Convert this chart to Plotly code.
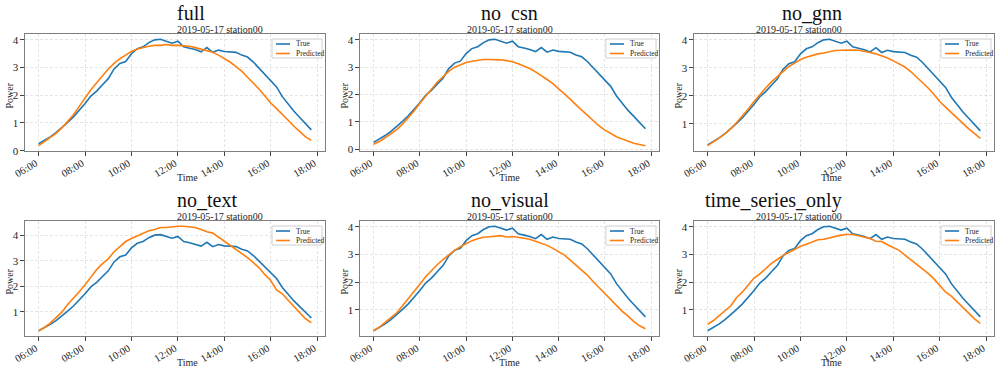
import pandas as pd
import plotly.graph_objects as go

times = pd.date_range("2019-05-17 06:00", "2019-05-17 17:45", freq="15min")

true_vals = [0.25, 0.37, 0.5, 0.65, 0.82, 1.02, 1.22, 1.45, 1.7, 1.97, 2.15, 2.38,
             2.6, 2.95, 3.15, 3.22, 3.5, 3.68, 3.75, 3.9, 4.0, 4.02, 3.95, 3.88,
             3.95, 3.75, 3.7, 3.65, 3.57, 3.72, 3.55, 3.63, 3.58, 3.57, 3.55, 3.45,
             3.38, 3.2, 2.98, 2.75, 2.55, 2.3, 1.95, 1.68, 1.42, 1.2, 0.97, 0.75]

pred_full = [0.18, 0.32, 0.47, 0.62, 0.82, 1.05, 1.3, 1.6, 1.9, 2.2, 2.45, 2.72,
             2.95, 3.15, 3.32, 3.45, 3.58, 3.67, 3.73, 3.77, 3.8, 3.8, 3.83, 3.8,
             3.8, 3.78, 3.77, 3.72, 3.67, 3.62, 3.55, 3.45, 3.33, 3.2, 3.03, 2.87,
             2.65, 2.45, 2.22, 1.97, 1.72, 1.52, 1.32, 1.1, 0.88, 0.68, 0.5, 0.37]

pred_no_csn = [0.18, 0.28, 0.42, 0.56, 0.72, 0.92, 1.15, 1.4, 1.68, 1.95, 2.2, 2.45,
               2.65, 2.85, 3.0, 3.08, 3.17, 3.22, 3.26, 3.28, 3.28, 3.28, 3.27, 3.24,
               3.2, 3.13, 3.05, 2.95, 2.83, 2.7, 2.55, 2.4, 2.22, 2.03, 1.83, 1.62,
               1.42, 1.22, 1.02, 0.85, 0.7, 0.57, 0.46, 0.37, 0.29, 0.22, 0.17, 0.13]

pred_no_gnn = [0.22, 0.35, 0.5, 0.65, 0.83, 1.05, 1.28, 1.53, 1.8, 2.05, 2.28, 2.5,
               2.68, 2.87, 3.05, 3.17, 3.3, 3.38, 3.45, 3.5, 3.53, 3.57, 3.62, 3.63,
               3.64, 3.64, 3.63, 3.6, 3.55, 3.5, 3.43, 3.35, 3.25, 3.15, 3.03, 2.87,
               2.68, 2.48, 2.28, 2.05, 1.8, 1.6, 1.4, 1.2, 1.0, 0.82, 0.65, 0.48]

pred_no_text = [0.25, 0.38, 0.55, 0.75, 0.98, 1.28, 1.52, 1.78, 2.05, 2.33, 2.65, 2.88,
                3.07, 3.35, 3.55, 3.75, 3.87, 3.97, 4.1, 4.17, 4.22, 4.3, 4.3, 4.33,
                4.35, 4.35, 4.33, 4.3, 4.22, 4.13, 4.08, 3.92, 3.78, 3.63, 3.45, 3.28,
                3.12, 2.92, 2.72, 2.45, 2.22, 1.85, 1.7, 1.45, 1.22, 0.98, 0.72, 0.57]

pred_no_visual = [0.25, 0.38, 0.55, 0.72, 0.9, 1.15, 1.4, 1.65, 1.93, 2.2, 2.42, 2.63,
                  2.82, 3.0, 3.15, 3.28, 3.4, 3.5, 3.57, 3.62, 3.64, 3.65, 3.68, 3.63,
                  3.65, 3.62, 3.58, 3.55, 3.48, 3.4, 3.33, 3.22, 3.1, 2.98, 2.8, 2.62,
                  2.42, 2.25, 2.02, 1.8, 1.58, 1.37, 1.15, 0.95, 0.78, 0.58, 0.43, 0.32]

pred_ts_only = [0.48, 0.62, 0.8, 0.98, 1.15, 1.45, 1.65, 1.9, 2.15, 2.3, 2.5, 2.68,
                2.82, 2.97, 3.07, 3.2, 3.3, 3.37, 3.45, 3.53, 3.55, 3.6, 3.63, 3.7,
                3.72, 3.72, 3.68, 3.63, 3.58, 3.48, 3.47, 3.35, 3.25, 3.15, 2.98, 2.82,
                2.65, 2.5, 2.32, 2.12, 1.9, 1.65, 1.5, 1.3, 1.1, 0.88, 0.68, 0.52]

titles = ["full", "no\u2002csn", "no_gnn", "no_text", "no_visual", "time_series_only"]
preds = [pred_full, pred_no_csn, pred_no_gnn, pred_no_text, pred_no_visual, pred_ts_only]
subtitle = "2019-05-17 station00"
legend_labels = ["True", "Predicted"]

W, H = 1001, 373
col_px = [(25, 325), (360, 659), (694, 994)]
row_px = [(34, 151), (221, 336)]
FONT = "Liberation Serif, Times New Roman, serif"
BLUE, ORANGE = "#1f77b4", "#ff7f0e"
TXT = "#262626"

fig = go.Figure()
span = times[-1] - times[0]
xr = [times[0] - span * 0.05, times[-1] + span * 0.05]
ticks = pd.date_range("2019-05-17 06:00", "2019-05-17 18:00", freq="2h")

layout = dict(width=W, height=H, margin=dict(l=0, r=0, t=0, b=0, autoexpand=False),
              paper_bgcolor="white", plot_bgcolor="white", showlegend=False,
              font=dict(family=FONT, color=TXT))
annotations = []
shapes = []

for i, (title, pred) in enumerate(zip(titles, preds)):
    r, c = divmod(i, 3)
    n = "" if i == 0 else str(i + 1)
    x0, x1 = col_px[c]
    y0, y1 = row_px[r]
    fig.add_trace(go.Scatter(x=times, y=true_vals, mode="lines", name=legend_labels[0],
                             line=dict(color=BLUE, width=1.6),
                             xaxis="x" + n, yaxis="y" + n))
    fig.add_trace(go.Scatter(x=times, y=pred, mode="lines", name=legend_labels[1],
                             line=dict(color=ORANGE, width=1.6),
                             xaxis="x" + n, yaxis="y" + n))
    lo = min(min(true_vals), min(pred))
    hi = max(max(true_vals), max(pred))
    pad = (hi - lo) * 0.05
    axis_common = dict(showline=True, mirror=True, linecolor="#7f7f7f", linewidth=1.2,
                       ticks="outside", ticklen=3.5, tickcolor="#444", automargin=False,
                       showgrid=True, gridcolor="rgba(170,170,170,0.3)",
                       griddash="3px,2px", gridwidth=0.8, zeroline=False)
    layout["xaxis" + n] = dict(axis_common, domain=[x0 / W, x1 / W], anchor="y" + n,
                               type="date", range=xr, tickvals=list(ticks),
                               tickformat="%H:%M", tickangle=-30,
                               ticklabelstandoff=-2, ticklabelshift=-3,
                               tickfont=dict(family=FONT, size=10.5, color=TXT))
    layout["yaxis" + n] = dict(axis_common, domain=[1 - y1 / H, 1 - y0 / H], anchor="x" + n,
                               range=[lo - pad, hi + pad], dtick=1, tick0=0,
                               tickfont=dict(family=FONT, size=11, color=TXT))
    cx = (x0 + x1) / 2
    annotations.append(dict(text=title, x=cx / W, y=1 - (y0 - 21) / H, xref="paper", yref="paper",
                            showarrow=False, font=dict(family=FONT, size=20, color="#111"),
                            yanchor="middle"))
    annotations.append(dict(text=subtitle, x=cx / W, y=1 - (y0 - 4.5) / H, xref="paper", yref="paper",
                            showarrow=False, font=dict(family=FONT, size=10, color=TXT),
                            yanchor="middle"))
    annotations.append(dict(text="Time", x=cx / W, y=1 - (y1 + 26) / H, xref="paper", yref="paper",
                            showarrow=False, font=dict(family=FONT, size=10, color=TXT),
                            yanchor="middle"))
    annotations.append(dict(text="Power", x=(x0 - 16) / W, y=1 - ((y0 + y1) / 2 + 3) / H,
                            xref="paper", yref="paper", textangle=-90,
                            showarrow=False, font=dict(family=FONT, size=10, color=TXT),
                            xanchor="center", yanchor="middle"))
    bx1, by0 = x1 - 3, y0 + 5
    bx0, by1 = bx1 - 50, by0 + 19
    shapes.append(dict(type="rect", xref="paper", yref="paper",
                       x0=bx0 / W, x1=bx1 / W, y0=1 - by1 / H, y1=1 - by0 / H,
                       line=dict(color="#d0d0d0", width=1), fillcolor="rgba(255,255,255,0.85)"))
    for k, (lab, col) in enumerate(zip(legend_labels, [BLUE, ORANGE])):
        ly = by0 + 5 + k * 9.5
        shapes.append(dict(type="line", xref="paper", yref="paper",
                           x0=(bx0 + 4) / W, x1=(bx0 + 18) / W, y0=1 - ly / H, y1=1 - ly / H,
                           line=dict(color=col, width=1.6)))
        annotations.append(dict(text=lab, x=(bx0 + 22) / W, y=1 - ly / H, xref="paper", yref="paper",
                                showarrow=False, xanchor="left", yanchor="middle",
                                font=dict(family=FONT, size=7.5, color=TXT)))
layout["annotations"] = annotations
layout["shapes"] = shapes
fig.update_layout(**layout)
fig.write_html("out.html")
